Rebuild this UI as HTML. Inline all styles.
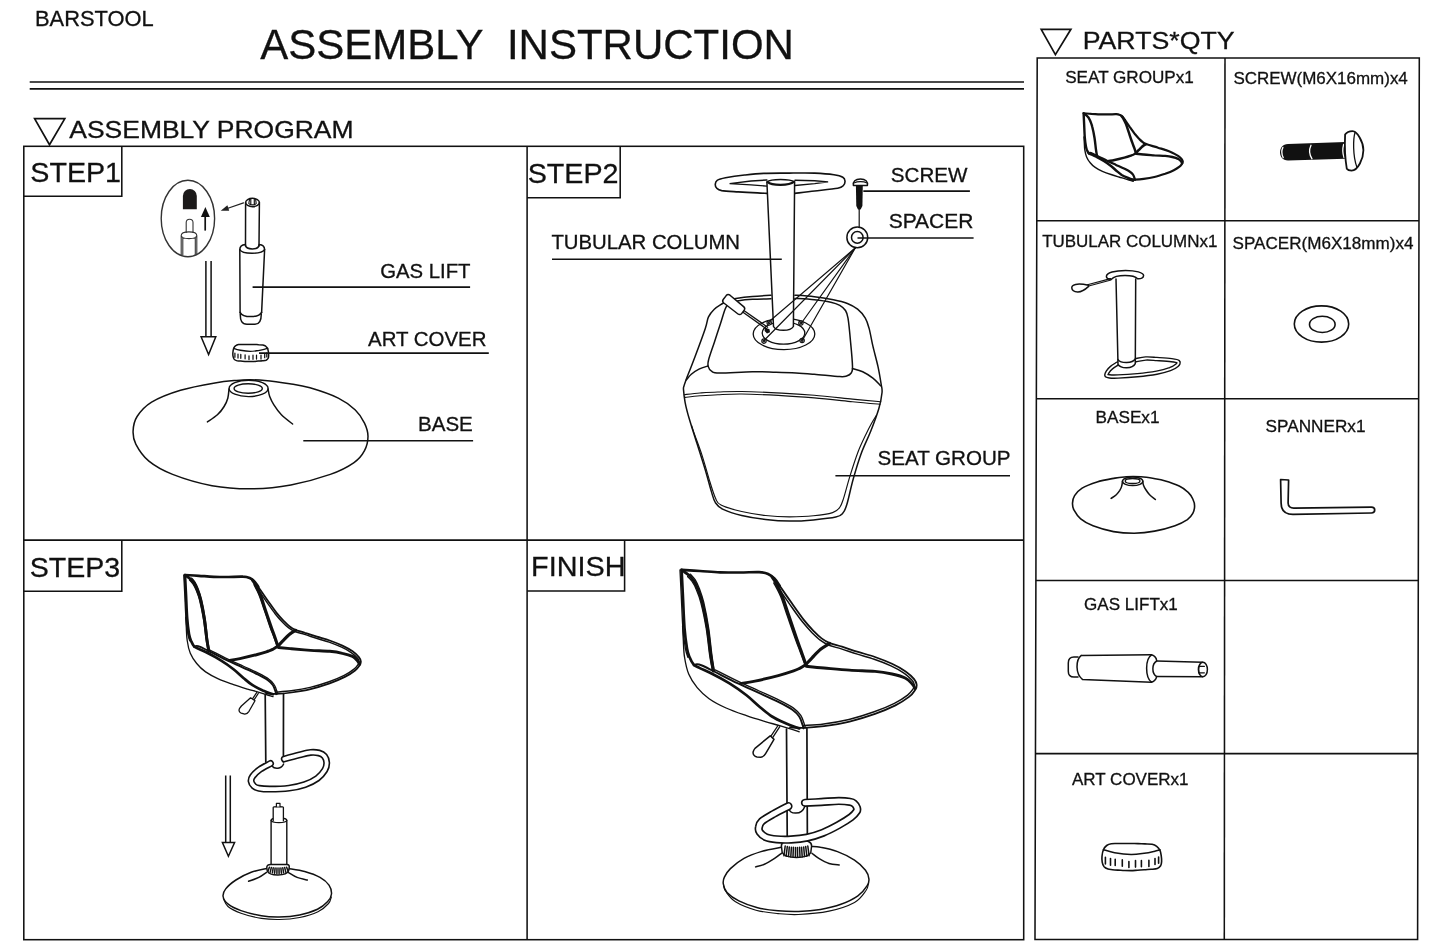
<!DOCTYPE html>
<html lang="en">
<head>
<meta charset="utf-8">
<title>BARSTOOL - Assembly Instruction</title>
<style>
html,body{margin:0;padding:0;background:#fff;}
body{width:1445px;height:941px;overflow:hidden;}
svg{display:block;will-change:transform;}
text{font-family:"Liberation Sans",Arial,sans-serif;fill:#111;stroke:#111;stroke-width:0.3px;}
.f{fill:none;stroke:#111;stroke-width:1.55;stroke-linecap:butt;stroke-linejoin:miter;}
.l{fill:none;stroke:#111;stroke-width:1.5;stroke-linecap:round;stroke-linejoin:round;}
.t{fill:none;stroke:#111;stroke-width:1.15;stroke-linecap:round;stroke-linejoin:round;}
.b{fill:none;stroke:#111;stroke-width:2.2;stroke-linecap:round;stroke-linejoin:round;}
.w{fill:#fff;stroke:#111;stroke-width:1.5;stroke-linecap:round;stroke-linejoin:round;}
.k{fill:#111;stroke:none;}
</style>
</head>
<body>
<svg width="1445" height="941" viewBox="0 0 1445 941">
<rect x="0" y="0" width="1445" height="941" fill="#fff"/>

<!-- ===== HEADER ===== -->
<g id="header">
<text transform="translate(35.0 26.2) scale(1.017 1)" font-size="21.5">BARSTOOL</text>
<text transform="translate(260.3 58.8) scale(1.0 1)" font-size="42">ASSEMBLY&#160;&#160;INSTRUCTION</text>
<line class="f" x1="29.7" y1="82" x2="1024" y2="82" style="stroke-width:1.6"/>
<line class="f" x1="29.7" y1="88.9" x2="1024" y2="88.9" style="stroke-width:1.6"/>
<path class="f" d="M34.6 118.7H64.8L49.5 144.7Z" style="stroke-width:1.7"/>
<text transform="translate(69.3 138.1) scale(1.103 1)" font-size="24">ASSEMBLY PROGRAM</text>
<path class="f" d="M1041.2 29.3H1070.9L1055.4 54.6Z" style="stroke-width:1.7"/>
<text transform="translate(1082.7 49.4) scale(1.114 1)" font-size="24">PARTS*QTY</text>
</g>

<!-- ===== MAIN FRAME ===== -->
<g id="frame">
<rect class="f" x="23.8" y="146.3" width="999.9" height="793.4"/>
<line class="f" x1="527.1" y1="146.3" x2="527.1" y2="939.7"/>
<line class="f" x1="23.8" y1="540.1" x2="1023.7" y2="540.1"/>
<path class="f" d="M121.8 146.3V196.2H23.8"/>
<path class="f" d="M620.2 146.3V197.8H527.1"/>
<path class="f" d="M121.8 540.1V591.3H23.8"/>
<path class="f" d="M624.6 540.1V590.9H527.1"/>
<text transform="translate(30.3 181.7) scale(1.012 1)" font-size="28.3">STEP1</text>
<text transform="translate(527.7 183) scale(1.014 1)" font-size="28.3">STEP2</text>
<text transform="translate(29.7 576.5) scale(1.008 1)" font-size="28.3">STEP3</text>
<text transform="translate(531.1 576.1) scale(1.017 1)" font-size="28.3">FINISH</text>
</g>

<!-- ===== PARTS TABLE ===== -->
<g id="table">
<path class="f" d="M1037.2 58H1419.3L1417.6 939.4H1035Z"/>
<line class="f" x1="1225" y1="58" x2="1224.3" y2="939.4"/>
<line class="f" x1="1036.8" y1="220.8" x2="1419" y2="220.8"/>
<line class="f" x1="1036.3" y1="398.8" x2="1418.7" y2="398.8"/>
<line class="f" x1="1035.9" y1="580.4" x2="1418.3" y2="580.4"/>
<line class="f" x1="1035.5" y1="753.6" x2="1418" y2="753.6"/>
<text transform="translate(1065.2 82.7) scale(1.038 1)" font-size="16.5">SEAT GROUPx1</text>
<text transform="translate(1233.4 83.7) scale(1.011 1)" font-size="16.8">SCREW(M6X16mm)x4</text>
<text transform="translate(1042.2 247.3) scale(1.028 1)" font-size="16.5">TUBULAR COLUMNx1</text>
<text transform="translate(1232.5 249.3) scale(1.0175 1)" font-size="16.8">SPACER(M6X18mm)x4</text>
<text transform="translate(1095.5 423) scale(1.042 1)" font-size="16.5">BASEx1</text>
<text transform="translate(1265.6 432.2) scale(1.023 1)" font-size="16.8">SPANNERx1</text>
<text transform="translate(1084.1 609.6) scale(1.033 1)" font-size="16.5">GAS LIFTx1</text>
<text transform="translate(1072.0 784.9) scale(1.031 1)" font-size="16.5">ART COVERx1</text>
</g>

<!-- STEP1 drawing -->
<g id="s1">
<clipPath id="cpE"><ellipse cx="187.9" cy="218.5" rx="26.2" ry="37.7"/></clipPath>
<ellipse cx="187.9" cy="218.5" rx="26.7" ry="38.2" fill="none" stroke="#333" stroke-width="1.4"/>
<path class="k" d="M182.9 209.3V196A6.95 6.95 0 0 1 196.8 196V209.3Z" style="fill:#1c1a1a"/>
<path class="l" d="M205.2 230.6V214" style="stroke-width:1.7;stroke-linecap:butt"/>
<path class="k" d="M200.9 217L205.4 207L209.8 217Z"/>
<g clip-path="url(#cpE)">
<path class="t" d="M186.2 232.4V222.6A3.4 3.4 0 0 1 193 222.6V232.4" style="stroke:#333;stroke-width:1.1"/>
<path class="t" d="M181.2 260V235.5C181.2 230.6 196.8 230.6 196.8 235.5V260M181.2 235.5C181.5 239.6 196.5 239.6 196.8 235.5M182.8 260V238M195.3 260V238" style="stroke:#333;stroke-width:1.1"/>
</g>
<path class="l" d="M243.5 202.9L226.5 208.7" style="stroke:#222;stroke-width:1.2"/>
<path class="k" d="M220.7 210.7L227.4 205.3L229.2 210.8Z" style="fill:#222"/>
<ellipse class="l" cx="252.5" cy="202.5" rx="6.9" ry="4.2"/>
<path class="t" d="M249.6 199.2L248.8 203.5C250 205.3 255 205.3 256.2 203.5L255.6 199.2M250.8 199V204.6M254.3 199V204.6"/>
<path class="l" d="M245.6 202.5L245.5 246M259.4 202.5L259 246"/>
<path class="l" d="M245.5 245.5C246.5 250 258 250 259 245.5"/>
<path class="l" d="M245.4 244.6C241.5 244.8 239.8 246.5 239.8 250L240.1 312.6M259.2 244.6C263 244.8 264.6 246.5 264.6 250L261.6 312.6"/>
<path class="l" d="M239.8 249.5C242 254.5 262 254.5 264.6 249.5"/>
<path class="l" d="M240.1 312.3C243 318 258.5 318 261.6 312.3"/>
<path class="l" d="M240.3 313.5C240 321 242 324.3 247 324.3H255C259.5 324.3 261.3 321 261.3 314"/>
<path class="l" d="M205.9 261V336.7M211.1 261V336.7" style="stroke-width:1.5;stroke-linecap:butt"/>
<path class="l" d="M201.1 336.7H215.8L208.6 354.6Z" style="stroke-width:1.5;stroke-linejoin:miter"/>
<path class="l" d="M233.7 348.3C234.2 347.2 234.9 346.3 235.7 345.7C236.5 345 237.3 344.7 238.5 344.5C239.6 344.3 241.2 344.5 242.5 344.4C243.8 344.4 245.1 344.4 246.4 344.4C247.7 344.4 248.9 344.4 250.3 344.4C251.6 344.4 253.1 344.5 254.5 344.5C255.9 344.6 257.3 344.6 258.7 344.7C260.1 344.7 261.8 344.7 262.9 344.9C264.1 345.2 264.9 345.6 265.7 346.2C266.5 346.9 267.2 347.7 267.7 348.8C268.1 349.8 268.3 351.3 268.5 352.5C268.6 353.7 268.7 354.9 268.6 355.9C268.6 356.9 268.5 357.8 268 358.5C267.6 359.2 267 359.8 266.1 360.2C265.1 360.6 263.6 360.6 262.3 360.7C261 360.9 259.5 360.9 258.2 361C256.9 361.1 255.6 361.3 254.2 361.4C252.9 361.4 251.6 361.5 250.3 361.5C249 361.6 247.6 361.5 246.3 361.5C245 361.4 243.6 361.3 242.4 361.2C241.2 361.1 240.2 361.1 239.2 361C238.2 360.9 237.3 360.9 236.5 360.6C235.6 360.3 234.7 359.9 234.1 359.1C233.6 358.4 233.2 357.3 233 356.2C232.8 355.1 232.8 353.8 232.9 352.5C233 351.2 233.3 349.5 233.7 348.3Z" style="stroke-width:1.5"/>
<path class="l" d="M233.7 348.3C234.8 348.7 237.7 349.7 240.4 350.2C243.2 350.7 247.3 351.3 250.3 351.4C253.2 351.4 255.9 350.9 258.2 350.6C260.5 350.3 262.5 349.8 264.1 349.4C265.7 349 267.1 348.5 267.7 348.3" style="stroke-width:1.40"/>
<path class="l" d="M234.9 353.1L234.9 357.3M238 354L238 358.1M240.8 354.4L240.8 358.3M245.1 354.8L245.1 358.8M249 355.9L249 359.6M253 355.2L253 359.3M256.5 355.2L256.5 359.1M261 355L261 359M264.7 354L264.7 357.7M266.8 352.9L266.8 356.9" style="stroke-width:1.25"/>
<path class="l" d="M133.1 431C133.3 426.4 134 421.3 137.1 416.5C140.2 411.7 144.4 406.5 151.6 402.1C158.8 397.7 169.9 393.4 180.5 390.2C191.1 387 205.6 384.5 214.9 382.9C224.2 381.3 230.7 380.9 236.5 380.4C242.3 379.9 245.1 379.8 249.8 379.8C254.5 379.8 258.2 379.8 264.8 380.4C271.4 381 282.2 382.5 289.7 383.7C297.2 384.9 301.9 385.4 310 387.8C318.1 390.2 330.8 394.4 338.3 398.1C345.9 401.8 350.9 405.8 355.3 410C359.7 414.2 362.4 418.7 364.5 423.1C366.6 427.5 368 431.7 368 436.3C368 440.9 366.8 446.3 364.5 450.7C362.2 455.1 359.7 458.7 354 462.6C348.3 466.6 340.8 470.7 330.3 474.4C319.8 478.1 304 482.5 290.9 484.9C277.8 487.3 264.6 488.7 251.5 488.8C238.3 488.9 225.2 488.1 212 485.7C198.8 483.3 183.1 478.5 172.6 474.4C162.1 470.3 155 466.2 148.9 461.2C142.8 456.1 138.4 449.1 135.8 444.1C133.2 439.1 132.9 435.6 133.1 431Z"/>
<ellipse class="l" cx="248.6" cy="388.4" rx="19.5" ry="8.2" style="stroke-width:1.4"/>
<ellipse class="l" cx="248.2" cy="388.5" rx="14.1" ry="4.8" style="stroke-width:1.4"/>
<path class="l" d="M229 389.1C228.8 390.6 228.6 395.3 227.8 398.2C227 401.1 225.8 403.7 224.1 406.5C222.4 409.3 220.2 412.2 217.4 414.8C214.6 417.4 209.1 420.7 207.4 421.9"/>
<path class="l" d="M268.1 389.1C268.4 390.4 268.7 394 269.7 396.6C270.7 399.2 271.9 401.9 273.9 404.9C275.8 407.9 278.3 411.6 281.4 414.8C284.5 418 290.7 422.5 292.6 424"/>
</g>
<!-- STEP2 drawing -->
<g id="s2">
<path class="l" d="M771 295.2C767.9 295.4 758.4 296 752.5 296.5C746.6 297 740 297.8 735.9 298.4C731.8 299 730.2 299.5 728 300.4C725.8 301.2 724.8 302 722.5 303.5C720.2 305 716.6 307 714.3 309.2C712 311.4 710 313.7 708.5 316.9C707 320.1 707.5 321.8 705.3 328.4C703.1 335 698.3 347.9 695.1 356.4C691.9 364.9 688.1 374.5 686.2 379.4C684.4 384.3 684.5 384.3 684 386C683.5 387.7 683.3 386.9 683.5 389.6C683.7 392.3 684.2 397.5 685.1 402.3C686 407.1 687.1 411.4 689.1 418.3C691.1 425.2 694.4 435.3 697.1 443.8C699.8 452.3 702.7 461.3 705.1 469.3C707.5 477.3 709.7 486 711.4 491.6C713.1 497.2 713.5 499.8 715.4 502.7C717.3 505.6 718.2 507 722.6 509.1C727 511.2 734.5 513.8 741.7 515.5C748.9 517.2 757.6 518.6 765.6 519.5C773.6 520.4 781.5 521 789.5 521.1C797.5 521.2 805.7 520.6 813.4 519.9C821.1 519.2 830.9 518.2 835.8 517.1C840.7 516 841 515.2 842.9 513.1C844.8 511 845.2 510 846.9 504.3C848.6 498.6 850.9 487.3 853.3 478.8C855.7 470.3 858.4 461.3 861.3 453.3C864.2 445.3 867.9 438.4 870.8 431C873.7 423.6 876.9 415.1 878.8 408.7C880.7 402.3 881.6 396.8 882 392.8C882.4 388.8 881.9 388.9 881.2 384.5C880.5 380.1 879.4 373 878 366.6C876.6 360.2 874.4 352.6 872.9 346.2C871.4 339.8 870.4 333.1 869.1 328.4C867.8 323.7 867.2 321.4 865.3 318.2C863.4 315 860.6 311.6 857.6 309.2C854.6 306.8 851.4 305.1 847.4 303.5C843.4 301.9 838.9 300.8 833.4 299.7C827.9 298.6 820.7 297.4 814.3 296.7C807.9 295.9 798.1 295.4 794.9 295.2"/>
<path class="l" d="M771 298.8C767.9 298.9 758.1 299 752.5 299.3C746.9 299.6 741.1 300.3 737.2 300.9C733.3 301.5 731 301.6 729 303C727 304.4 726.5 305.8 725.1 309.2C723.7 312.6 722.4 317.8 720.6 323.3C718.8 328.8 716.3 336.2 714.3 342.4C712.3 348.5 709.5 356.2 708.5 360.2C707.5 364.2 707.8 364.8 708.3 366.6C708.8 368.4 709.6 370.1 711.5 371.2C713.4 372.3 712.6 372.9 719.4 373C726.2 373.1 743.1 371.8 752.5 371.7C761.9 371.6 768.8 372.1 776 372.3C783.2 372.5 789.6 372.7 796 373C802.4 373.3 807 373.7 814.3 374.3C821.6 374.9 834.4 376.3 839.8 376.6C845.2 376.9 844.7 376.6 846.6 376C848.5 375.4 850.2 374.6 851.2 373C852.2 371.4 852.6 371.7 852.5 366.6C852.4 361.5 851.4 350.5 850.6 342.4C849.9 334.3 848.9 323.5 848 318.2C847.1 312.9 846.9 312.6 845.5 310.5C844.1 308.4 842.2 306.8 839.8 305.4C837.3 304 835 303.1 830.8 302.2C826.5 301.2 820.3 300.3 814.3 299.7C808.3 299.1 798.1 298.6 794.9 298.4"/>
<path class="l" d="M707.8 366C706.3 366.5 701.8 367.8 699 369.2C696.2 370.6 693.4 372.5 691.3 374.3C689.2 376.1 687.1 379.1 686.2 380"/>
<path class="l" d="M852.5 368.5C854.2 369 859.3 370.1 862.7 371.7C866.1 373.3 869.9 375.8 872.9 378.1C875.9 380.4 879.3 384.4 880.6 385.7"/>
<path class="t" d="M684.3 394.7C686.9 394.4 694.4 393.4 700 393C705.6 392.6 710.8 392.2 717.8 392C724.8 391.8 731.1 391.3 741.7 391.5C752.3 391.7 769.5 392.5 781.6 393.1C793.7 393.7 802.5 394.3 814.3 395.3C826.1 396.3 841.4 398 852.5 399.1C863.6 400.2 876.1 401.3 880.8 401.7"/>
<path class="t" d="M685.1 397.4C687.6 397.1 694.5 396.2 700 395.8C705.5 395.4 710.8 395 717.8 394.7C724.8 394.4 731.1 393.9 741.7 394C752.3 394.1 769.5 395 781.6 395.6C793.7 396.2 802.5 396.9 814.3 397.9C826.1 398.9 841.5 400.6 852.5 401.7C863.5 402.8 875.4 403.8 880 404.2"/>
<path class="t" d="M691.5 425.5C691.9 426.7 692.2 427.7 693.9 432.6C695.6 437.5 699.4 447.2 701.9 454.9C704.4 462.6 706.8 471.6 709 478.8C711.2 486 713.4 493.6 715.4 498C717.4 502.4 716.6 502.9 721 505.1C725.4 507.4 734.3 509.8 741.7 511.5C749.1 513.2 757.6 514.6 765.6 515.5C773.6 516.4 781.5 516.8 789.5 516.8C797.5 516.8 806.2 516.5 813.4 515.8C820.6 515.1 828.2 514 832.6 512.6C837 511.2 837.9 509.9 839.7 507.5C841.6 505.1 842 503.2 843.7 497.9C845.4 492.6 847.7 483.3 850.1 475.6C852.5 467.9 855.5 458.6 858.1 451.7C860.8 444.8 863.8 438.8 866 434.2C868.2 429.6 869.5 427.1 871.2 424C872.9 420.9 875.4 416.9 876.3 415.5"/>
<ellipse class="w" cx="784" cy="334" rx="30.8" ry="15.6" style="stroke-width:1.3"/>
<ellipse class="l" cx="783.5" cy="333" rx="21.3" ry="11.2" style="stroke-width:1.3"/>
<circle class="t" cx="769.2" cy="322.8" r="2.2" style="fill:#fff"/>
<circle class="t" cx="769.2" cy="322.8" r="0.9"/>
<circle class="t" cx="800.9" cy="323" r="2.2" style="fill:#fff"/>
<circle class="t" cx="800.9" cy="323" r="0.9"/>
<circle class="t" cx="764" cy="341.1" r="2.2" style="fill:#fff"/>
<circle class="t" cx="764" cy="341.1" r="0.9"/>
<circle class="t" cx="802.1" cy="340.5" r="2.2" style="fill:#fff"/>
<circle class="t" cx="802.1" cy="340.5" r="0.9"/>
<path class="l" d="M766.9 193.4C765.3 193.3 762.2 193.2 757.4 192.9C752.6 192.7 744.2 192.3 738.2 191.9C732.2 191.5 725.3 191.2 721.7 190.6C718.1 189.9 717.7 189.1 716.6 188C715.5 186.9 715.2 185.5 715.3 184.2C715.4 182.9 715.5 181.5 717.2 180.4C718.9 179.3 720.9 178.7 725.5 177.8C730.1 176.9 738.2 175.7 744.6 175C751 174.3 756.3 173.7 763.7 173.4C771.1 173.1 780.7 173.2 789.2 173.1C797.7 173 807.2 172.8 814.7 173.1C822.2 173.4 829.2 174 833.9 174.7C838.6 175.4 840.9 176.1 842.8 177.2C844.6 178.2 844.9 179.6 845 181C845.1 182.4 844.6 184.3 843.4 185.5C842.2 186.7 842.5 187.4 837.7 188.3C832.9 189.2 821.8 190.2 814.7 191C807.6 191.8 798.3 193 795 193.4" style="stroke-width:1.6"/>
<path class="l" d="M766.9 186.1L751 184.9L729.6 183.6L751 181L766.9 180" style="stroke-width:1.4;stroke-linejoin:miter"/>
<path class="l" d="M795 180.3L814.7 180.8L828.1 181.9L814.7 183.6L795 185.5" style="stroke-width:1.4;stroke-linejoin:miter"/>
<path class="w" d="M766.9 182L773.5 326.5C776 331.6 790.5 331.6 793.4 326.5L794.6 182C790 178.8 771 178.8 766.9 182Z"/>
<path class="l" d="M767.4 181.9C772 185.9 789 185.9 794.2 181.7" style="stroke-width:2.2"/>
<path class="l" d="M742.3 311.8L766.4 328.8M743.5 310.2L767.6 327.2" style="stroke-width:1.3"/>
<path class="k" d="M765 327.6L769.5 329.2L770 332.3L767 333.4L764.6 331Z"/>
<path class="w" d="M726.2 295.6C727.2 294.4 728.8 294.3 730 295.2L743.6 306.6C744.8 307.6 745 309 744.2 310.2L741.6 313.6C740.8 314.7 739.2 314.9 738 314L723.8 303C722.6 302 722.4 300.6 723.2 299.5Z"/>
<path class="w" d="M853.4 185.4C852.8 181.6 855.2 179 860.5 179C865.6 179 868 181.6 867.4 185.4Z" style="stroke-width:1.5"/>
<path class="t" d="M854.6 182.8C857 181.2 864 181.2 866.4 182.8"/>
<path class="k" d="M855.9 185.4H862.8L862.4 206L860.6 209.4H858L856.3 206Z"/>
<path class="l" d="M859.2 209V227" style="stroke-width:1.2"/>
<circle class="w" cx="857.3" cy="237.4" r="10.4" style="stroke-width:1.5"/>
<circle class="l" cx="857.3" cy="237.4" r="5.8" style="stroke-width:1.5"/>
<path class="l" d="M855.2 248L769.8 321" style="stroke-width:1.2"/>
<path class="l" d="M855.2 248L764.5 340" style="stroke-width:1.2"/>
<path class="l" d="M855.2 248L801.8 322.5" style="stroke-width:1.2"/>
<path class="l" d="M855.2 248L802.6 340" style="stroke-width:1.2"/>
</g>
<!-- STEP3 drawing -->
<g id="s3">
<path class="l" d="M266.5 868.5C263.9 869.1 256.3 870.4 251.2 872.3C246.1 874.2 240.2 877.2 235.9 880C231.7 882.8 227.8 886.1 225.7 888.9C223.6 891.6 222.7 894 223.1 896.5C223.5 899 225.2 901.9 228.2 904.2C231.2 906.6 235.5 908.7 241 910.6C246.5 912.5 255 914.7 261.4 915.7C267.8 916.8 272.8 917 279.2 916.9C285.6 916.8 293.2 916.2 299.6 914.9C306 913.6 312.8 911.5 317.5 909.3C322.2 907.1 325.4 904.1 327.7 901.6C330 899.1 331.3 896.8 331.5 894C331.7 891.2 330.9 887.9 329 885.1C327.1 882.3 324.1 879.7 320 877.4C315.9 875.1 310 873 304.7 871.5C299.4 870 290.9 869 288.2 868.5"/>
<path class="t" d="M223.4 898.5C224.2 899.8 225.1 904 228 906.5C230.9 909 235.4 911.2 241 913.2C246.6 915.2 255 917.4 261.4 918.4C267.8 919.4 272.8 919.6 279.2 919.5C285.6 919.4 293.1 918.8 299.6 917.5C306.1 916.2 313.2 914 318 911.7C322.8 909.4 326.3 906 328.5 903.5C330.7 901 330.8 898.1 331.3 897"/>
<path class="l" d="M266.5 872.3C265.2 873.1 261.8 875.9 258.8 877.4C255.8 878.9 250.3 880.6 248.6 881.2"/>
<path class="l" d="M288.2 872.3C289.7 873.1 293.9 876.1 297.1 877.4C300.3 878.7 305.6 879.6 307.3 880"/>
<path class="w" d="M271.1 865V820.6C271.1 817.2 286.8 817.2 286.8 820.6V865Z" style="stroke-width:1.4"/>
<path class="t" d="M271.1 820.4C271.8 823.4 286 823.4 286.8 820.4" style="stroke-width:1.3"/>
<path class="w" d="M273.2 820.8V807.4C273.2 806.4 283.4 806.4 283.4 807.4V820.8" style="stroke-width:1.3"/>
<path class="w" d="M276.4 806.6V803.3H280V806.6" style="stroke-width:1.2"/>
<path class="w" d="M266.8 868C266.5 865.2 268.6 864.5 271.1 864.6H286.8C288.8 864.5 289.5 865.6 289.2 867.6L288.6 870.8C286.4 876.3 269.6 876.3 267.3 871Z" style="stroke-width:1.5"/>
<path class="t" d="M269.4 867.2L267.9 871.3M271.3 867.6L270.2 872.2M273.2 867.8L272.4 872.8M275.1 867.9L274.6 873.2M277 868L276.9 873.4M279 868L279.1 873.4M280.9 867.9L281.4 873.2M282.8 867.8L283.6 872.8M284.7 867.6L285.8 872.2M286.6 867.2L288.1 871.3" style="stroke-width:1.5"/>
<path class="l" d="M225.7 775.4V842.5M230.3 775.4V842.5" style="stroke-width:1.5;stroke-linecap:butt"/>
<path class="l" d="M222.4 842.5H234.6L228.4 856.2Z" style="stroke-width:1.5;stroke-linejoin:miter"/>
<path class="w" d="M265.2 694L265.8 763C268 770.4 281 770.4 283.4 763L283.4 694Z" style="stroke:none"/>
<path class="l" d="M265.2 694.6L265.8 762M283.5 693.6L283.4 762" style="stroke-width:1.7"/>
<path d="M270.5 763.5C268.8 764.5 263.1 767.1 260.1 769.3C257.1 771.4 254.1 774.4 252.6 776.4C251.1 778.4 250.9 779.7 251.1 781.3C251.3 782.9 252.7 785 254 786.2C255.3 787.4 256.4 787.8 259 788.3C261.6 788.8 264.8 789.1 269.8 789.1C274.8 789.1 283.3 788.9 289.1 788.1C294.9 787.4 300.1 786.2 304.8 784.6C309.5 783 314.1 780.7 317.4 778.3C320.7 775.9 323.2 772.7 324.8 770.1C326.4 767.5 326.8 765 326.7 762.7C326.6 760.4 325.8 757.9 324.5 756.3C323.2 754.7 321.3 753.6 319 753C316.7 752.4 313.9 752.1 310.6 752.4C307.4 752.7 303.9 753.8 299.5 754.9C295.1 756 286.8 758.3 284.3 759" fill="none" stroke="#111" stroke-width="7" stroke-linecap="round" stroke-linejoin="round"/>
<path d="M270.5 763.5C268.8 764.5 263.1 767.1 260.1 769.3C257.1 771.4 254.1 774.4 252.6 776.4C251.1 778.4 250.9 779.7 251.1 781.3C251.3 782.9 252.7 785 254 786.2C255.3 787.4 256.4 787.8 259 788.3C261.6 788.8 264.8 789.1 269.8 789.1C274.8 789.1 283.3 788.9 289.1 788.1C294.9 787.4 300.1 786.2 304.8 784.6C309.5 783 314.1 780.7 317.4 778.3C320.7 775.9 323.2 772.7 324.8 770.1C326.4 767.5 326.8 765 326.7 762.7C326.6 760.4 325.8 757.9 324.5 756.3C323.2 754.7 321.3 753.6 319 753C316.7 752.4 313.9 752.1 310.6 752.4C307.4 752.7 303.9 753.8 299.5 754.9C295.1 756 286.8 758.3 284.3 759" fill="none" stroke="#fff" stroke-width="3.8" stroke-linecap="round" stroke-linejoin="round"/>
<path class="l" d="M272.2 766.2C274.5 769.4 281.5 769.2 283.6 764" style="stroke-width:1.5"/>
<path class="l" d="M256.8 692.4L252 699.6M258.3 693.4L253.6 700.6" style="stroke-width:1.2"/>
<path class="w" d="M250.6 697.8L255 700.8L249 711.3C247.8 713.2 246.6 714 244.8 714.1L241.2 713.1C239.3 712.4 238.5 710.4 239.4 708.7L241.4 706Z" style="stroke-width:1.3"/>
<path class="l" d="M185 575C187.3 575.1 194 575.5 198.8 575.8C203.6 576.1 208.7 576.6 213.7 576.8C218.7 577 223.8 577 228.7 577C233.6 576.9 239.5 576.5 243 576.7C246.5 576.8 247.8 577.3 249.7 578.1C251.6 578.9 253 580 254.4 581.5C255.8 582.9 257.6 585.9 258.2 586.7" style="stroke-width:2.7"/>
<path class="l" d="M258.2 586.7C259.7 588.8 263.8 594.9 266.8 599.2C269.9 603.5 273.5 608.9 276.4 612.6C279.3 616.3 281.8 618.9 284 621.2C286.3 623.6 287.8 625.1 289.7 626.5C291.6 628 292.9 628.9 295.5 629.9C298 630.9 301.4 631.6 305 632.8C308.6 633.9 312.8 635.4 316.9 636.7C321.1 638 325.4 639 329.7 640.5C333.9 642 338.6 643.8 342.4 645.6C346.2 647.4 349.8 649.4 352.6 651.3C355.3 653.2 357.5 655.4 358.9 657.1C360.3 658.8 360.7 660.2 360.9 661.6C361 662.9 360.5 663.9 359.6 665.4C358.6 666.9 357.5 668.6 355.1 670.5C352.7 672.4 349.2 674.8 344.9 676.9C340.7 679 335.4 681.3 329.7 683.3C323.9 685.3 316.9 687.5 310.6 689.1C304.2 690.6 297.2 691.7 291.5 692.5C285.8 693.3 280.5 693.7 276.3 693.8C272 694 267.8 693.4 266.1 693.4" style="stroke-width:1.75"/>
<path class="l" d="M256.8 587.7C258.3 589.8 262.4 595.9 265.4 600.2C268.5 604.5 272.2 610 275.1 613.7C277.9 617.4 280.5 620.1 282.8 622.4C285.1 624.8 286.7 626.4 288.7 627.9C290.7 629.4 292.2 630.4 294.8 631.5C297.5 632.6 300.9 633.3 304.5 634.4C308.1 635.5 312.3 637 316.4 638.3C320.5 639.6 324.9 640.7 329.1 642.1C333.3 643.6 337.9 645.4 341.6 647.2C345.4 648.9 348.9 650.9 351.6 652.8C354.2 654.6 356.3 656.7 357.6 658.2C358.8 659.7 359 660.7 359.1 661.7C359.2 662.7 359 663.2 358.1 664.5C357.3 665.7 356.4 667.3 354 669.1C351.7 671 348.3 673.3 344.2 675.3C340 677.4 334.8 679.6 329.1 681.7C323.4 683.7 316.5 685.9 310.2 687.4C303.9 688.9 297 690 291.3 690.8C285.6 691.6 278.6 691.9 276.1 692.1" style="stroke-width:1.45"/>
<path class="l" d="M252.6 580.3C253 581 253.9 581.8 255.2 584.2C256.4 586.5 258.5 590.1 260.2 594.4C261.9 598.7 263.5 604.3 265.3 609.7C267.2 615.2 269.7 622.7 271.2 627C272.7 631.3 273.2 632.5 274.3 635.6C275.4 638.7 277.2 644.1 277.8 645.8" style="stroke-width:3.0"/>
<path class="l" d="M185 575C185.1 578 185.5 585.8 185.9 593.1C186.3 600.4 186.6 611.9 187.2 618.7C187.7 625.5 188.4 630.4 189 634C189.7 637.7 190.1 638.5 190.9 640.5C191.8 642.5 192.8 644.9 194.1 646.3C195.4 647.7 196.3 647.7 198.6 648.8C200.9 650 204.4 651.4 208.1 653.3C211.8 655.2 216.6 657.7 220.8 660.4C225.1 663 229.7 666.3 233.5 669.3C237.4 672.3 240.5 675.6 243.7 678.2C246.9 680.9 249.4 683.2 252.6 685.2C255.8 687.3 259.4 688.9 262.8 690.4C266.2 691.8 271.3 693.6 273 694.2" style="stroke-width:2.7"/>
<path class="l" d="M185.7 617.2C185.8 618.9 186 623.8 186.3 627.7C186.5 631.6 186.5 636.2 187.2 640.5C187.8 644.8 188.7 649.4 190.3 653.3C191.9 657.1 194.1 660.4 196.7 663.5C199.2 666.6 202 669.3 205.6 671.9C209.2 674.4 213.6 676.7 218.3 678.9C222.9 681 228.7 682.9 233.5 684.6C238.4 686.3 243.3 687.8 247.5 689.1C251.8 690.4 254.7 691 259 692.3C263.2 693.6 270.6 696 273 696.7" style="stroke-width:1.3"/>
<path class="l" d="M187 576.4C187.6 576.9 189.4 578 190.5 579.1C191.7 580.2 192.9 581.3 194 583C195.1 584.8 196 586.6 197.1 589.4C198.2 592.1 199.3 594.6 200.5 599.5C201.7 604.4 203.2 612.1 204.3 618.7C205.4 625.3 206.1 633.8 206.8 639.1C207.6 644.5 208.5 649 208.8 651" style="stroke-width:2.9000000000000004"/>
<path class="l" d="M229.1 660.4C230.9 660.1 235.2 659.6 239.9 658.6C244.6 657.6 252.5 655.8 257.3 654.5C262.1 653.2 266.2 651.8 268.8 651C271.4 650.1 271.5 650 273 649.2C274.5 648.4 277 646.7 277.8 646.2" style="stroke-width:2.9000000000000004"/>
<path class="l" d="M278.2 647.5C280.4 647.7 286.1 648.3 291.5 648.8C296.9 649.2 304.2 649.9 310.6 650.4C316.9 650.8 324.4 650.8 329.7 651.3C335 651.8 338.6 652.4 342.4 653.3C346.2 654.1 350 655.2 352.6 656.4C355.1 657.7 356.4 659.7 357.6 661C358.8 662.3 359.4 663.7 359.7 664.3" style="stroke-width:2.9000000000000004"/>
<path class="l" d="M277.8 646.2C278.6 645.4 280.8 643 282.6 641.1C284.5 639.2 286.8 636.5 289 634.7C291.2 632.9 294.6 631 295.7 630.3" style="stroke-width:3.1"/>
<path class="l" d="M194.1 646.9C194.5 646.7 195.5 645.9 196.5 645.9C197.5 645.9 198.1 646 200.3 646.9C202.4 647.8 204.9 649.2 209.4 651.4C213.9 653.6 221.7 657.7 227.2 660.4C232.7 663 237.4 665 242.4 667.3C247.5 669.7 253.5 672.3 257.7 674.4C261.9 676.5 265.3 678.3 267.9 680.1C270.4 681.9 271.7 683.3 273 685.2C274.2 687.2 275 690.1 275.5 691.6C276 693.1 276.1 693.8 276.2 694.2" style="stroke-width:1.9"/>
<path class="l" d="M210 650.1C213 651.6 222.3 656.4 227.8 659.1C233.3 661.7 237.9 663.7 243 666C248.1 668.4 254.1 671 258.3 673.1C262.6 675.3 266.1 677.1 268.7 679C271.3 680.8 272.8 682.4 274.1 684.5C275.5 686.5 276.3 689.6 276.8 691.1C277.4 692.7 277.4 693.4 277.6 693.8" style="stroke-width:1.3"/>
<path class="l" d="M183.8 575.1C184 578.1 184.3 585.9 184.7 593.2C185.1 600.5 185.4 611.9 186 618.8C186.5 625.6 187.2 630.6 187.9 634.2C188.5 637.9 189.4 639.7 189.8 640.8" style="stroke-width:1.3"/>
<path class="l" d="M189.5 580C190 580.6 191.8 582.1 192.9 583.8C194 585.4 194.9 587.1 196 589.8C197.1 592.5 198.2 594.9 199.5 599.8C200.7 604.6 202.3 612.3 203.4 618.8C204.5 625.4 205.3 633.9 206.1 639.3C206.8 644.6 207.8 649.2 208.1 651.1" style="stroke-width:1.3"/>
<path class="l" d="M191.6 578.1C192.2 578.8 194 580.5 195.1 582.3C196.2 584.1 197.1 586.1 198.2 588.9C199.3 591.7 200.3 594.3 201.5 599.3C202.7 604.2 204.2 611.9 205.2 618.5C206.2 625.2 206.9 633.6 207.6 639C208.3 644.4 209.1 648.9 209.5 650.9" style="stroke-width:1.3"/>
<path class="l" d="M254 584.8C254.8 586.5 257.3 590.6 259 594.9C260.8 599.1 262.4 604.7 264.3 610.1C266.2 615.5 268.7 623.1 270.2 627.4C271.8 631.7 272.3 632.8 273.5 635.9C274.6 639 276.5 644.3 277.1 646" style="stroke-width:1.4000000000000001"/>
</g>
<!-- FINISH drawing -->
<g id="fin">
<path class="l" d="M781.4 847.3C778 848 767.2 849.8 761 851.6C754.8 853.5 749.1 855.6 744 858.4C738.9 861.2 733.7 865.5 730.4 868.6C727.1 871.7 725.6 874.6 724.4 877.1C723.2 879.6 722.9 881.4 723.3 883.9C723.7 886.4 724.4 889.6 727 892.4C729.6 895.2 733.8 898.3 738.9 900.9C744 903.5 751.1 906.1 757.6 907.7C764.1 909.3 771.2 910.1 778 910.7C784.8 911.3 791.3 911.6 798.4 911.4C805.5 911.2 813.4 910.6 820.5 909.4C827.6 908.2 834.7 906.6 840.9 904.3C847.1 902 853.5 898.9 857.9 895.8C862.3 892.7 865.4 888.4 867.2 885.6C869 882.8 869.2 881.3 868.9 878.8C868.6 876.2 867.9 873.4 865.5 870.3C863.1 867.2 859.2 863.2 854.5 860.1C849.8 857 843.2 853.7 837.5 851.6C831.8 849.5 824.8 848.1 820.5 847.3C816.2 846.4 813.4 846.6 812 846.5"/>
<path class="t" d="M723.6 886C724 886.9 723.8 888.9 725.8 891.5C727.8 894.1 730.5 898.7 735.5 901.8C740.5 904.9 748.9 908.2 756 910.2C763.1 912.2 770.9 912.9 778 913.6C785.1 914.3 789.9 914.9 798.4 914.5C806.9 914.1 819.6 913.1 829 911.1C838.4 909.1 848.3 905.8 854.5 902.4C860.7 899 863.6 893.7 866 890.5C868.4 887.3 868.2 884.2 868.6 883"/>
<path class="l" d="M781.4 853.3C780.3 854.1 777.4 856.6 774.6 858.4C771.8 860.2 767.6 862.9 764.4 864.3C761.2 865.7 757.1 866.5 755.6 866.9"/>
<path class="l" d="M812 853.3C813.1 854.1 816 856.7 818.8 858.4C821.6 860.1 825.6 862.4 829 863.5C832.4 864.6 837.5 864.7 839.2 864.9"/>
<path class="w" d="M786.5 728L787.3 846H807.4L806.9 728Z" style="stroke:none"/>
<path class="l" d="M786.5 729L787.3 846M806.9 728.4L807.4 846" style="stroke-width:1.7"/>
<path class="l" d="M788.6 808.4C789.8 812.4 792.6 813.3 796 813.1C800.4 812.9 803 811.4 804.8 806.4"/>
<path class="w" d="M781.4 846C781.2 842 785 840 796.5 840C808 840 811.8 842 811.6 846L810.8 852.5C808 859 785 859 782.2 852.5Z"/>
<path class="t" d="M785.2 846L783.9 855.8M787.3 846.6L786.1 856.3M789.3 846.9L788.5 856.5M791.4 847.2L790.8 856.7M793.4 847.3L793 856.7M795.5 847.4L795.4 856.8M797.5 847.4L797.6 856.8M799.6 847.3L800 856.7M801.6 847.2L802.2 856.7M803.7 846.9L804.5 856.5M805.7 846.6L806.9 856.3M807.8 846L809.1 855.8" style="stroke-width:1.5"/>
<path d="M788.4 806.2C785.9 807.5 777.9 811.5 773.5 814C769.1 816.5 764.2 819.2 761.8 821.4C759.4 823.6 759.2 825.5 758.9 827.3C758.5 829.1 758.5 830.5 759.7 832.1C760.9 833.8 763.2 836 766 837.2C768.8 838.4 772.5 838.9 776.7 839.3C780.9 839.7 786 839.8 791 839.5C796 839.2 801.7 838.7 807 837.6C812.3 836.5 817.7 834.9 822.9 832.8C828.1 830.7 833.6 827.8 838.3 825.2C843 822.6 848 819.5 851.1 817.2C854.2 814.9 855.7 812.9 856.7 811.3C857.7 809.7 857.3 808.9 856.9 807.6C856.5 806.3 855.4 804.6 854.2 803.6C853.1 802.6 852.6 802.2 850 801.8C847.4 801.3 843.6 800.9 838.8 800.9C834 800.9 826.9 801.7 821.3 802C815.7 802.3 807.7 802.7 805 802.8" fill="none" stroke="#111" stroke-width="8.3" stroke-linecap="round" stroke-linejoin="round"/>
<path d="M788.4 806.2C785.9 807.5 777.9 811.5 773.5 814C769.1 816.5 764.2 819.2 761.8 821.4C759.4 823.6 759.2 825.5 758.9 827.3C758.5 829.1 758.5 830.5 759.7 832.1C760.9 833.8 763.2 836 766 837.2C768.8 838.4 772.5 838.9 776.7 839.3C780.9 839.7 786 839.8 791 839.5C796 839.2 801.7 838.7 807 837.6C812.3 836.5 817.7 834.9 822.9 832.8C828.1 830.7 833.6 827.8 838.3 825.2C843 822.6 848 819.5 851.1 817.2C854.2 814.9 855.7 812.9 856.7 811.3C857.7 809.7 857.3 808.9 856.9 807.6C856.5 806.3 855.4 804.6 854.2 803.6C853.1 802.6 852.6 802.2 850 801.8C847.4 801.3 843.6 800.9 838.8 800.9C834 800.9 826.9 801.7 821.3 802C815.7 802.3 807.7 802.7 805 802.8" fill="none" stroke="#fff" stroke-width="5" stroke-linecap="round" stroke-linejoin="round"/>
<path class="l" d="M778 725.5L770.6 736.6M779.8 726.6L772.5 737.8" style="stroke-width:1.3"/>
<path class="w" d="M770.2 735.8L774 739.4L765.6 753.6C764.4 755.8 763 757 760.8 757.3L757 757C754.4 756.6 752.6 754.2 753.2 751.8C753.6 750.4 754.2 749.4 755 748.4Z"/>
<path class="l" d="M681.6 569.9C684.7 570.1 693.6 570.6 700 571C706.4 571.4 713.3 572 720 572.3C726.7 572.5 733.5 572.5 740 572.5C746.5 572.5 754.4 571.9 759.1 572.1C763.8 572.4 765.6 572.9 768.1 574C770.6 575.1 772.5 576.6 774.4 578.5C776.3 580.4 778.6 584.3 779.5 585.5" style="stroke-width:2.7"/>
<path class="l" d="M779.5 585.5C781.4 588.3 787 596.4 791 602.1C795 607.8 800 615 803.8 619.9C807.6 624.8 811 628.3 814 631.4C817 634.5 819.1 636.5 821.6 638.4C824.1 640.3 825.9 641.5 829.3 642.9C832.7 644.3 837.2 645.2 842 646.7C846.8 648.2 852.5 650.2 858 651.9C863.5 653.6 869.3 655 875 657C880.7 659 886.9 661.4 892 663.8C897.1 666.2 901.9 668.8 905.6 671.4C909.3 674 912.2 676.8 914.1 679.1C916 681.4 916.6 683.2 916.7 685C916.9 686.8 916.3 688.1 915 690.1C913.7 692.1 912.3 694.4 909 696.9C905.7 699.4 901.1 702.6 895.4 705.4C889.7 708.2 882.6 711.2 875 713.9C867.4 716.6 858 719.5 849.5 721.6C841 723.7 831.6 725.2 824 726.2C816.4 727.2 809.3 727.7 803.6 727.9C797.9 728.1 792.3 727.4 790 727.3" style="stroke-width:1.8"/>
<path class="l" d="M777.6 586.8C779.5 589.6 785.1 597.7 789.1 603.4C793.2 609.2 798.1 616.4 802 621.3C805.9 626.2 809.3 629.8 812.3 633C815.4 636.1 817.5 638.2 820.2 640.2C822.9 642.2 824.9 643.6 828.4 645C831.9 646.5 836.5 647.4 841.3 648.9C846.1 650.4 851.8 652.4 857.3 654.1C862.8 655.8 868.6 657.2 874.2 659.2C879.9 661.1 886 663.5 891 665.9C896 668.2 900.7 670.8 904.3 673.3C907.8 675.7 910.6 678.6 912.3 680.6C914 682.5 914.3 683.8 914.4 685.2C914.5 686.6 914.2 687.2 913.1 688.9C911.9 690.5 910.7 692.7 907.6 695.1C904.5 697.5 899.9 700.6 894.4 703.3C888.8 706.1 881.8 709.1 874.2 711.7C866.7 714.4 857.4 717.3 849 719.4C840.5 721.4 831.3 722.9 823.7 723.9C816.1 725 806.8 725.3 803.4 725.6" style="stroke-width:1.5"/>
<path class="l" d="M772 577C772.6 577.9 773.7 579 775.4 582.1C777.1 585.2 779.8 590 782.1 595.7C784.4 601.4 786.5 608.9 789 616.1C791.5 623.3 794.8 633.4 796.8 639.1C798.8 644.8 799.5 646.4 801 650.5C802.5 654.6 804.9 661.8 805.7 664" style="stroke-width:3.0"/>
<path class="l" d="M681.6 569.9C681.8 573.9 682.3 584.3 682.8 594C683.3 603.7 683.8 618.9 684.5 628C685.2 637.1 686.2 643.6 687 648.4C687.8 653.2 688.4 654.3 689.5 657C690.6 659.7 692.1 662.9 693.8 664.7C695.5 666.6 696.7 666.6 699.8 668.1C702.9 669.6 707.5 671.5 712.5 674C717.5 676.5 723.8 679.9 729.5 683.4C735.2 686.9 741.4 691.3 746.5 695.3C751.6 699.3 755.9 703.7 760.1 707.2C764.4 710.7 767.8 713.8 772 716.5C776.2 719.2 781.1 721.3 785.6 723.3C790.1 725.3 796.9 727.5 799.2 728.4" style="stroke-width:2.7"/>
<path class="l" d="M682.6 626C682.7 628.3 683 634.8 683.3 640C683.6 645.2 683.6 651.3 684.5 657C685.4 662.7 686.6 668.9 688.7 674C690.8 679.1 693.8 683.5 697.2 687.6C700.6 691.7 704.3 695.3 709.1 698.7C713.9 702.1 719.9 705.2 726.1 708C732.3 710.8 740 713.4 746.5 715.7C753 718 759.5 719.9 765.2 721.6C770.9 723.3 774.8 724.2 780.5 725.9C786.2 727.6 796.1 730.8 799.2 731.8" style="stroke-width:1.35"/>
<path class="l" d="M684.3 571.8C685.1 572.4 687.5 573.8 689 575.3C690.5 576.8 692.1 578.3 693.6 580.6C695.1 582.9 696.3 585.4 697.8 589C699.2 592.6 700.7 596 702.3 602.5C703.9 609 706 619.2 707.4 628C708.8 636.8 709.8 648 710.8 655.2C711.8 662.4 713 668.4 713.4 671" style="stroke-width:2.9000000000000004"/>
<path class="l" d="M740.6 683.5C743 683.1 748.7 682.4 755 681.1C761.3 679.8 771.9 677.3 778.3 675.6C784.7 673.9 790.1 672.1 793.6 670.9C797.1 669.7 797.2 669.6 799.2 668.6C801.2 667.6 804.6 665.3 805.7 664.6" style="stroke-width:2.9000000000000004"/>
<path class="l" d="M806.2 666.3C809.2 666.6 816.8 667.4 824 668C831.2 668.6 841 669.5 849.5 670.1C858 670.7 867.9 670.8 875 671.4C882.1 672 886.9 672.9 892 674C897.1 675.1 902.2 676.5 905.6 678.2C909 679.9 910.8 682.5 912.4 684.2C914 685.9 914.7 687.9 915.2 688.6" style="stroke-width:2.9000000000000004"/>
<path class="l" d="M805.7 664.6C806.8 663.5 809.6 660.3 812.1 657.8C814.6 655.2 817.7 651.7 820.6 649.3C823.5 646.9 828.1 644.4 829.6 643.4" style="stroke-width:3.1"/>
<path class="l" d="M693.8 665.5C694.3 665.3 695.6 664.2 697 664.2C698.4 664.2 699.1 664.3 702 665.5C704.9 666.7 708.2 668.5 714.2 671.5C720.2 674.5 730.6 679.9 738 683.4C745.4 686.9 751.6 689.6 758.4 692.7C765.2 695.8 773.1 699.3 778.8 702.1C784.5 704.9 789 707.3 792.4 709.7C795.8 712.1 797.5 714 799.2 716.5C800.9 719 801.9 723 802.6 725C803.3 727 803.4 727.8 803.5 728.4" style="stroke-width:1.9500000000000002"/>
<path class="l" d="M715 669.8C719 671.8 731.5 678.2 738.8 681.7C746.2 685.2 752.4 687.9 759.2 691C766 694.1 773.9 697.5 779.6 700.4C785.4 703.3 790 705.6 793.5 708.1C797 710.7 799 712.7 800.8 715.4C802.6 718.1 803.6 722.3 804.4 724.4C805.1 726.4 805.2 727.3 805.3 727.9" style="stroke-width:1.35"/>
<path class="l" d="M680 570C680.2 574 680.7 584.4 681.2 594.1C681.7 603.8 682.2 619 682.9 628.1C683.6 637.2 684.6 643.8 685.4 648.7C686.3 653.6 687.5 656 688 657.4" style="stroke-width:1.35"/>
<path class="l" d="M687.6 576.5C688.3 577.4 690.7 579.4 692.1 581.5C693.6 583.7 694.9 586 696.3 589.6C697.8 593.1 699.3 596.4 700.9 602.8C702.6 609.3 704.7 619.4 706.2 628.2C707.6 636.9 708.7 648.2 709.7 655.3C710.8 662.5 712.1 668.5 712.5 671.1" style="stroke-width:1.35"/>
<path class="l" d="M690.4 574.1C691.2 575 693.6 577.3 695.1 579.7C696.5 582.1 697.8 584.7 699.3 588.4C700.7 592.2 702.1 595.6 703.7 602.2C705.2 608.7 707.3 619 708.6 627.8C710 636.6 710.9 647.9 711.9 655.1C712.8 662.2 713.9 668.2 714.3 670.9" style="stroke-width:1.35"/>
<path class="l" d="M773.8 582.9C774.9 585.1 778.3 590.7 780.6 596.3C782.9 601.9 785.1 609.4 787.6 616.6C790.1 623.8 793.5 633.8 795.6 639.5C797.6 645.3 798.4 646.8 799.9 650.9C801.4 655 803.9 662.1 804.8 664.3" style="stroke-width:1.4500000000000002"/>
</g>
<!-- PARTS drawings -->
<g id="pt">
<path class="l" d="M1083.6 113.3C1084.9 113.4 1088.7 113.6 1091.4 113.8C1094.1 113.9 1097 114.2 1099.8 114.3C1102.6 114.4 1105.5 114.4 1108.2 114.4C1111 114.4 1114.3 114.1 1116.3 114.2C1118.3 114.3 1119 114.6 1120.1 115C1121.2 115.5 1121.9 116.1 1122.7 116.9C1123.5 117.7 1124.5 119.4 1124.9 119.9" style="stroke-width:2.2"/>
<path class="l" d="M1124.9 119.9C1125.7 121 1128 124.4 1129.7 126.8C1131.5 129.2 1133.5 132.2 1135.1 134.3C1136.8 136.4 1138.2 137.8 1139.4 139.1C1140.7 140.4 1141.6 141.3 1142.7 142.1C1143.7 142.9 1144.5 143.4 1145.9 144C1147.3 144.5 1149.2 144.9 1151.3 145.6C1153.3 146.2 1155.7 147 1158 147.7C1160.3 148.5 1162.8 149 1165.2 149.9C1167.6 150.7 1170.2 151.7 1172.3 152.7C1174.5 153.7 1176.5 154.9 1178.1 155.9C1179.6 157 1180.9 158.2 1181.7 159.2C1182.4 160.1 1182.7 160.9 1182.8 161.6C1182.8 162.4 1182.6 163 1182 163.8C1181.5 164.6 1180.9 165.6 1179.5 166.6C1178.1 167.7 1176.2 169 1173.8 170.2C1171.4 171.4 1168.4 172.6 1165.2 173.8C1161.9 174.9 1158 176.2 1154.4 177C1150.8 177.9 1146.9 178.5 1143.7 178.9C1140.4 179.4 1137.4 179.6 1135.1 179.7C1132.7 179.7 1130.3 179.4 1129.3 179.4" style="stroke-width:2.2"/>
<path class="l" d="M1121.7 116.3C1122 116.6 1122.5 117.1 1123.2 118.4C1123.9 119.7 1125 121.8 1126 124.1C1126.9 126.5 1127.9 129.7 1128.9 132.7C1129.9 135.7 1131.3 140 1132.2 142.4C1133 144.8 1133.3 145.4 1134 147.2C1134.6 148.9 1135.6 151.9 1135.9 152.8" style="stroke-width:2.5"/>
<path class="l" d="M1083.6 113.3C1083.7 115 1083.9 119.4 1084.1 123.4C1084.3 127.5 1084.5 133.9 1084.8 137.7C1085.1 141.5 1085.5 144.2 1085.9 146.3C1086.2 148.3 1086.5 148.7 1086.9 149.9C1087.4 151 1088 152.3 1088.7 153.1C1089.5 153.9 1090 153.9 1091.3 154.5C1092.6 155.2 1094.5 156 1096.6 157C1098.7 158.1 1101.4 159.5 1103.8 161C1106.2 162.5 1108.8 164.3 1111 166C1113.1 167.6 1114.9 169.5 1116.7 171C1118.5 172.5 1119.9 173.7 1121.7 174.9C1123.5 176 1125.6 176.9 1127.5 177.7C1129.4 178.6 1132.2 179.5 1133.2 179.9" style="stroke-width:2.4000000000000004"/>
<path class="l" d="M1084 136.9C1084.1 137.8 1084.2 140.6 1084.3 142.7C1084.5 144.9 1084.4 147.5 1084.8 149.9C1085.2 152.3 1085.7 154.9 1086.6 157C1087.5 159.2 1088.7 161 1090.2 162.7C1091.6 164.5 1093.2 166 1095.2 167.4C1097.2 168.8 1099.7 170.1 1102.4 171.3C1105 172.5 1108.2 173.6 1111 174.5C1113.7 175.5 1116.5 176.3 1118.9 177C1121.3 177.7 1122.9 178.1 1125.3 178.8C1127.7 179.5 1131.9 180.9 1133.2 181.3" style="stroke-width:1.4"/>
<path class="l" d="M1084.7 114.1C1085.1 114.3 1086.1 115 1086.7 115.6C1087.4 116.2 1088 116.8 1088.7 117.8C1089.3 118.8 1089.8 119.8 1090.4 121.3C1091 122.9 1091.7 124.3 1092.3 127C1093 129.7 1093.9 134 1094.5 137.7C1095.1 141.4 1095.5 146.1 1095.9 149.1C1096.3 152.1 1096.8 154.7 1097 155.8" style="stroke-width:2.4000000000000004"/>
<path class="l" d="M1108.5 161C1109.5 160.8 1111.9 160.6 1114.6 160C1117.2 159.5 1121.7 158.4 1124.4 157.7C1127.1 157 1129.4 156.2 1130.8 155.7C1132.3 155.2 1132.4 155.2 1133.2 154.8C1134.1 154.3 1135.5 153.4 1135.9 153.1" style="stroke-width:2.4000000000000004"/>
<path class="l" d="M1136.2 153.8C1137.4 153.9 1140.6 154.2 1143.7 154.5C1146.7 154.8 1150.8 155.1 1154.4 155.4C1158 155.6 1162.2 155.7 1165.2 155.9C1168.2 156.2 1170.2 156.5 1172.3 157C1174.5 157.5 1176.6 158.1 1178.1 158.8C1179.5 159.5 1180.3 160.6 1181 161.3C1181.6 162 1181.9 162.8 1182.1 163.2" style="stroke-width:2.4000000000000004"/>
<path class="l" d="M1135.9 153.1C1136.4 152.6 1137.6 151.3 1138.6 150.2C1139.7 149.1 1141 147.7 1142.2 146.6C1143.5 145.6 1145.4 144.6 1146 144.2" style="stroke-width:2.6"/>
<path class="l" d="M1088.7 153.5C1089 153.4 1089.5 152.9 1090.1 152.9C1090.7 152.9 1091 152.9 1092.2 153.5C1093.4 154 1094.8 154.7 1097.4 156C1099.9 157.2 1104.3 159.5 1107.4 161C1110.5 162.5 1113.1 163.6 1116 164.9C1118.9 166.2 1122.2 167.6 1124.6 168.8C1127 170 1128.9 171 1130.3 172C1131.8 173 1132.5 173.8 1133.2 174.9C1133.9 175.9 1134.3 177.6 1134.6 178.4C1134.9 179.3 1135 179.6 1135 179.9" style="stroke-width:2.2"/>
<path class="k" d="M1288 143.9L1345.4 142V158.7L1288 160.4C1277.4 160.4 1277.4 143.9 1288 143.9Z"/>
<path d="M1282.9 147.4C1281.4 150.5 1281.4 154 1283.2 157.6M1311 145.3C1309 149.5 1309.2 154.5 1312 158.8M1343.6 144.5C1342.4 149 1342.6 153.5 1344 157.6" fill="none" stroke="#fff" stroke-width="1.3" stroke-linecap="round"/>
<path class="w" d="M1345.1 134.6C1346.6 132.4 1350 131.2 1352.5 131.2C1357 131.2 1363.4 141.5 1363.4 150.2C1363.4 158.5 1358 170.6 1351.6 170.6C1349.4 170.6 1347.6 170 1346.8 168.8C1345 158 1344.6 145 1345.1 134.6Z" style="stroke-width:1.8"/>
<path class="l" d="M1355.1 132.2C1353 139 1352.8 156 1356.8 166.9" style="stroke-width:1.3"/>
<path d="M1117.5 363.6C1116.5 364.3 1113.2 366.2 1111.5 367.6C1109.8 369 1108.4 370.7 1107.6 372C1106.8 373.3 1106.1 374.7 1106.4 375.4C1106.7 376.1 1107.6 376.2 1109.5 376.4C1111.4 376.6 1113.3 376.7 1118 376.5C1122.7 376.3 1131 375.8 1137.4 375.2C1143.9 374.6 1151.3 373.7 1156.7 372.7C1162.1 371.7 1166.6 370.4 1170 369.2C1173.4 367.9 1175.6 366.4 1177 365.2C1178.4 364 1179.1 362.6 1178.2 361.8C1177.3 361 1175.1 360.7 1171.5 360.2C1167.9 359.7 1161 359.3 1156.7 359C1152.4 358.7 1149.2 358.3 1145.7 358.5C1142.2 358.7 1137.6 359.9 1136 360.2" fill="none" stroke="#111" stroke-width="4.6" stroke-linecap="round" stroke-linejoin="round"/>
<path d="M1117.5 363.6C1116.5 364.3 1113.2 366.2 1111.5 367.6C1109.8 369 1108.4 370.7 1107.6 372C1106.8 373.3 1106.1 374.7 1106.4 375.4C1106.7 376.1 1107.6 376.2 1109.5 376.4C1111.4 376.6 1113.3 376.7 1118 376.5C1122.7 376.3 1131 375.8 1137.4 375.2C1143.9 374.6 1151.3 373.7 1156.7 372.7C1162.1 371.7 1166.6 370.4 1170 369.2C1173.4 367.9 1175.6 366.4 1177 365.2C1178.4 364 1179.1 362.6 1178.2 361.8C1177.3 361 1175.1 360.7 1171.5 360.2C1167.9 359.7 1161 359.3 1156.7 359C1152.4 358.7 1149.2 358.3 1145.7 358.5C1142.2 358.7 1137.6 359.9 1136 360.2" fill="none" stroke="#fff" stroke-width="1.8" stroke-linecap="round" stroke-linejoin="round"/>
<path class="w" d="M1116 277L1118 364.3C1121 369 1132.5 369 1135.3 363.6L1135.7 277Z" style="stroke:none"/><path class="l" d="M1116 279L1118 364.3C1121 369 1132.5 369 1135.3 363.6L1135.7 279"/>
<path class="l" d="M1118 359.6C1121 363.6 1132.5 363.6 1135.3 358.9"/>
<path class="w" d="M1106.4 276.4C1106.4 272.6 1115 270.4 1125.6 270.4C1135.6 270.4 1143.6 272.6 1143.6 275.6C1143.6 278 1141 279 1137.6 278.8C1136.2 277.2 1131 275.6 1125 275.6C1118 275.6 1113.4 277 1111.4 279.2C1108.4 279 1106.4 278 1106.4 276.4Z"/>
<path class="l" d="M1110.6 278.6L1087.4 284.8M1111 280L1087.8 286.3" style="stroke-width:1.1"/>
<path class="w" d="M1088.4 285.2C1084.5 284.4 1079 283.8 1075.6 284.4C1073 285 1071.6 286.6 1071.8 288C1072 290.2 1074.6 291.8 1077.6 292C1081.4 292.2 1085.2 289.6 1088.6 286.4Z"/>
<ellipse class="l" cx="1321.5" cy="324" rx="27.2" ry="18.1" style="stroke-width:1.6"/>
<ellipse class="l" cx="1322.3" cy="324.4" rx="12.8" ry="8.1" style="stroke-width:1.6"/>
<path class="l" d="M1072.5 503.1C1072.6 500.7 1073 498.1 1074.6 495.6C1076.2 493.1 1078.4 490.4 1082.1 488.1C1085.9 485.8 1091.7 483.6 1097.1 481.9C1102.6 480.2 1110.2 479 1115 478.1C1119.9 477.3 1123.2 477.1 1126.3 476.8C1129.3 476.5 1130.7 476.5 1133.2 476.5C1135.6 476.5 1137.5 476.5 1141 476.8C1144.4 477.1 1150 477.9 1153.9 478.5C1157.8 479.2 1160.3 479.4 1164.5 480.7C1168.7 481.9 1175.3 484.1 1179.2 486C1183.1 487.9 1185.8 490 1188 492.2C1190.3 494.4 1191.7 496.7 1192.8 499C1193.9 501.3 1194.6 503.5 1194.6 505.9C1194.6 508.3 1194 511.1 1192.8 513.4C1191.6 515.6 1190.3 517.5 1187.4 519.6C1184.4 521.6 1180.5 523.8 1175 525.7C1169.6 527.6 1161.4 529.9 1154.6 531.1C1147.7 532.4 1140.9 533.1 1134.1 533.2C1127.2 533.2 1120.4 532.8 1113.5 531.6C1106.7 530.3 1098.5 527.8 1093 525.7C1087.6 523.6 1083.9 521.5 1080.7 518.8C1077.5 516.2 1075.3 512.5 1073.9 509.9C1072.5 507.3 1072.4 505.5 1072.5 503.1Z" style="stroke-width:1.6"/>
<ellipse class="l" cx="1132.7" cy="481.3" rx="10.2" ry="4.3" style="stroke-width:1.5"/>
<ellipse class="l" cx="1132.6" cy="481" rx="7.4" ry="2.5" style="stroke-width:1.3"/>
<path class="l" d="M1122.4 481.3C1122.3 482.1 1122.2 484.6 1121.7 486.1C1121.3 487.6 1120.7 488.9 1119.8 490.4C1118.9 491.8 1117.8 493.4 1116.3 494.7C1114.9 496 1112 497.8 1111.1 498.4" style="stroke-width:1.5"/>
<path class="l" d="M1142.7 481.3C1142.8 482 1143 483.9 1143.5 485.2C1144 486.6 1144.7 488 1145.7 489.5C1146.7 491.1 1148 493 1149.6 494.7C1151.2 496.4 1154.5 498.7 1155.4 499.5" style="stroke-width:1.5"/>
<path class="l" d="M1280.6 479.5L1288.6 480L1288.1 503C1288.1 506.4 1290.4 508.2 1294 508.1L1371.4 507.2C1375.8 507.2 1375.8 513 1371.4 513L1292.9 514.4C1285 514.4 1281.1 510 1281.1 503Z" style="stroke-width:1.7"/>
<path class="l" d="M1078 657.1L1074 657C1070 657 1068.3 659.4 1068.3 663V671.2C1068.3 675 1070 677.1 1074 677.1H1078"/>
<path class="l" d="M1081.3 655.4L1151.5 654.8M1082.4 679.4L1151.5 682.2M1081.3 655.4C1075.4 660 1075.4 674 1082.4 679.4"/>
<path class="l" d="M1151.5 654.8C1145 659 1145 677 1151.5 682.2M1151.5 654.8C1154.5 655.6 1156.4 658 1156.7 661M1151.5 682.2C1154.5 681.2 1156.2 679 1156.6 676.6M1156.7 661C1151.6 664 1151.6 673.6 1156.6 676.6"/>
<path class="l" d="M1156.7 661.1L1202.6 662.2M1156.6 676.6L1202.6 676.8"/>
<ellipse class="l" cx="1202.9" cy="669.5" rx="4.5" ry="7.3"/>
<path class="t" d="M1199.8 666.4H1204.4M1199.8 672.8H1204.4M1199.8 664.8C1198.4 667.6 1198.4 671.4 1199.8 674.2"/>
<path class="l" d="M1103.4 849.7C1104.2 847.9 1105.4 846.5 1106.7 845.5C1108 844.5 1109.4 844 1111.3 843.7C1113.2 843.4 1115.8 843.6 1118 843.5C1120.2 843.5 1122.3 843.5 1124.5 843.5C1126.7 843.5 1128.8 843.5 1131 843.5C1133.2 843.5 1135.7 843.6 1138 843.6C1140.3 843.7 1142.7 843.8 1145 843.9C1147.3 844 1150.1 843.9 1152.1 844.3C1154 844.7 1155.4 845.4 1156.7 846.4C1158 847.4 1159.2 848.8 1160 850.4C1160.8 852 1161 854.4 1161.3 856.3C1161.6 858.2 1161.7 860 1161.6 861.6C1161.5 863.2 1161.3 864.6 1160.6 865.8C1159.9 866.9 1158.9 867.9 1157.3 868.5C1155.7 869.1 1153.2 869.1 1151 869.3C1148.8 869.5 1146.4 869.6 1144.2 869.8C1142 870 1139.8 870.2 1137.6 870.3C1135.4 870.4 1133.2 870.6 1131 870.6C1128.8 870.6 1126.6 870.6 1124.4 870.5C1122.2 870.4 1119.9 870.2 1117.9 870.1C1115.9 870 1114.2 869.9 1112.5 869.7C1110.8 869.5 1109.4 869.6 1108 869.1C1106.6 868.6 1105.1 867.9 1104.1 866.8C1103.1 865.6 1102.5 864 1102.2 862.2C1101.9 860.5 1101.8 858.4 1102 856.3C1102.2 854.2 1102.6 851.5 1103.4 849.7Z" style="stroke-width:1.6"/>
<path class="l" d="M1103.4 849.7C1105.3 850.2 1110 851.9 1114.6 852.7C1119.2 853.5 1126.1 854.4 1131 854.5C1135.9 854.6 1140.4 853.8 1144.2 853.3C1148 852.8 1151.4 852 1154 851.4C1156.6 850.8 1159 850 1160 849.7" style="stroke-width:1.50"/>
<path class="l" d="M1105.4 857.3L1105.4 863.9M1110.5 858.6L1110.5 865.2M1115.2 859.3L1115.2 865.5M1122.3 859.9L1122.3 866.2M1128.9 861.6L1128.9 867.5M1135.5 860.6L1135.5 867.1M1141.4 860.6L1141.4 866.8M1148.9 860.2L1148.9 866.5M1155 858.6L1155 864.5M1158.6 857L1158.6 863.2" style="stroke-width:1.6"/>
</g>

<!-- ===== STEP LABELS ===== -->
<g id="labels">
<text transform="translate(380.2 278.3) scale(1.016 1)" font-size="20">GAS LIFT</text>
<line class="f" x1="252.6" y1="287.1" x2="470.1" y2="287.1"/>
<text transform="translate(368 345.6) scale(1.022 1)" font-size="20">ART COVER</text>
<line class="f" x1="259" y1="353.1" x2="488.8" y2="353.1"/>
<text transform="translate(418 431) scale(1.027 1)" font-size="20">BASE</text>
<line class="f" x1="303.3" y1="440.7" x2="473.1" y2="440.7"/>
<text transform="translate(551.4 249.4) scale(1.017 1)" font-size="20">TUBULAR COLUMN</text>
<line class="f" x1="552" y1="259.2" x2="781.8" y2="259.2"/>
<text transform="translate(890.8 181.5) scale(1.03 1)" font-size="20">SCREW</text>
<line class="f" x1="863.3" y1="191.1" x2="969.9" y2="191.1"/>
<text transform="translate(888.7 228.3) scale(1.049 1)" font-size="20">SPACER</text>
<line class="f" x1="857.5" y1="237.9" x2="973.6" y2="237.9"/>
<text transform="translate(877.5 465.2) scale(1.029 1)" font-size="20">SEAT GROUP</text>
<line class="f" x1="835.4" y1="475.7" x2="1010" y2="475.7"/>
</g>

</svg>
</body>
</html>
